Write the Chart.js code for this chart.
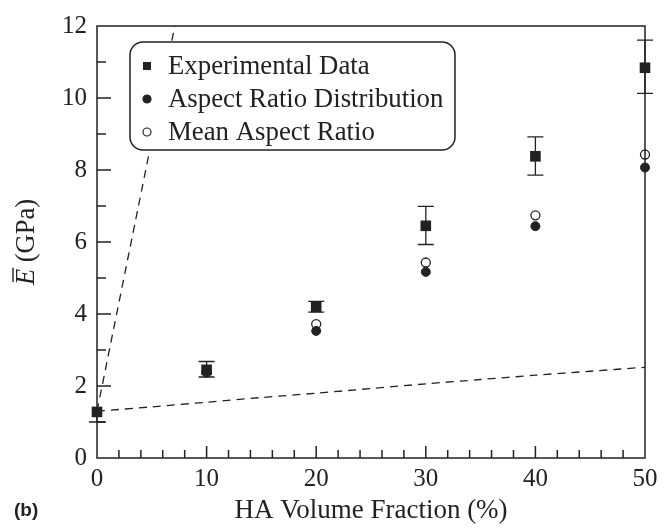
<!DOCTYPE html>
<html lang="en">
<head>
  <meta charset="UTF-8" />
  <title>E vs HA Volume Fraction</title>
  <script src="https://cdn.jsdelivr.net/npm/chart.js"></script>
  <style>
    body {
      margin: 0;
      padding: 0;
      background: #fff;
    }
    .chart-container {
      position: relative;
      width: 671px;
      height: 532px;
    }
    .panel-label {
      position: absolute;
      left: 14px;
      top: 499px;
      font: bold 19px "Liberation Sans", Arial, sans-serif;
      color: #222;
    }
  </style>
</head>
<body>
  <div class="chart-container">
    <canvas id="modulusChart"></canvas>
    <div class="panel-label">(b)</div>
  </div>

  <script>
    const fractions = [0, 10, 20, 30, 40, 50];
    const experimental = [1.28, 2.45, 4.2, 6.45, 8.38, 10.84];
    const errUp = [0.05, 0.23, 0.15, 0.54, 0.54, 0.77];
    const errDown = [0.28, 0.2, 0.15, 0.52, 0.52, 0.71];
    const distribution = [null, 2.4, 3.53, 5.17, 6.44, 8.07];
    const meanRatio = [null, 2.38, 3.72, 5.43, 6.74, 8.43];

    const upperX = [0, 7.1];
    const upperY = [1.3, 12];
    const lowerX = [0, 5, 10, 15, 20, 25, 30, 35, 40, 45, 50];
    const lowerY = [1.3, 1.42, 1.55, 1.68, 1.8, 1.93, 2.06, 2.18, 2.3, 2.41, 2.52];

    const yTicks = [0, 2, 4, 6, 8, 10, 12];
    const xTicks = [0, 10, 20, 30, 40, 50];

    const ink = '#222';
    const serif = '"Liberation Serif", "Times New Roman", serif';

    const pts = (xs, ys) => xs.map((v, i) => ({x: v, y: ys[i]})).filter(p => p.y !== null);

    // inward ticks, frame, error bars, legend box and y title
    const decorations = {
      id: 'decorations',
      afterDatasetsDraw(chart) {
        const {ctx, scales: {x, y}} = chart;
        ctx.save();
        ctx.strokeStyle = ink;
        ctx.lineWidth = 1.3;
        experimental.forEach((v, i) => {
          const px = x.getPixelForValue(fractions[i]);
          const top = y.getPixelForValue(v + errUp[i]);
          const bot = y.getPixelForValue(v - errDown[i]);
          ctx.beginPath();
          ctx.moveTo(px, top); ctx.lineTo(px, bot);
          if (errUp[i] > 0.1) {
            ctx.moveTo(px - 8, top); ctx.lineTo(px + 8, top);
          }
          ctx.moveTo(px - 8, bot); ctx.lineTo(px + 8, bot);
          ctx.stroke();
        });
        ctx.restore();
      },
      afterDraw(chart) {
        const {ctx, chartArea: a, scales: {x, y}} = chart;
        ctx.save();
        ctx.strokeStyle = ink;
        ctx.lineWidth = 1.5;
        ctx.strokeRect(a.left, a.top, a.width, a.height);

        ctx.beginPath();
        for (let v = 2; v < 50; v += 2) {
          const px = x.getPixelForValue(v);
          const len = v % 10 === 0 ? 12 : 8;
          ctx.moveTo(px, a.bottom); ctx.lineTo(px, a.bottom - len);
        }
        for (let v = 1; v < 12; v += 1) {
          const py = y.getPixelForValue(v);
          const len = v % 2 === 0 ? 14 : 9;
          ctx.moveTo(a.left, py); ctx.lineTo(a.left + len, py);
        }
        ctx.stroke();

        // legend
        const box = {left: 130, top: 42, width: 325, height: 108};
        ctx.beginPath();
        ctx.roundRect(box.left, box.top, box.width, box.height, 13);
        ctx.fillStyle = '#fff';
        ctx.fill();
        ctx.lineWidth = 1.5;
        ctx.stroke();

        ctx.font = '26.8px ' + serif;
        ctx.textBaseline = 'middle';
        ctx.textAlign = 'left';
        [0, 1, 2].forEach(i => {
          const ds = chart.data.datasets[i];
          const cy = box.top + 24 + i * 33;
          const cx = 147;
          ctx.fillStyle = ink;
          ctx.lineWidth = 1.2;
          if (ds.pointStyle === 'rect') {
            ctx.fillRect(cx - 4, cy - 4, 8, 8);
          } else {
            ctx.beginPath();
            ctx.arc(cx, cy, 4, 0, Math.PI * 2);
            ctx.fillStyle = ds.pointBackgroundColor;
            ctx.fill();
            ctx.stroke();
          }
          ctx.fillStyle = ink;
          ctx.fillText(ds.label, 168, cy + 1);
        });

        // y axis title: E with overbar, then (GPa)
        ctx.translate(26, (a.top + a.bottom) / 2);
        ctx.rotate(-Math.PI / 2);
        ctx.textBaseline = 'alphabetic';
        ctx.font = 'italic 26.5px ' + serif;
        const eW = ctx.measureText('E').width;
        ctx.font = '26.5px ' + serif;
        const restW = ctx.measureText(' (GPa)').width;
        const start = -(eW + restW) / 2;
        ctx.font = 'italic 26.5px ' + serif;
        ctx.fillStyle = ink;
        ctx.fillText('E', start, 8);
        ctx.font = '26.5px ' + serif;
        ctx.fillText(' (GPa)', start + eW, 8);
        ctx.lineWidth = 1.4;
        ctx.beginPath();
        ctx.moveTo(start + 3, -13);
        ctx.lineTo(start + eW + 1, -13);
        ctx.stroke();
        ctx.restore();
      }
    };

    const ctx = document.getElementById('modulusChart').getContext('2d');

    new Chart(ctx, {
      type: 'scatter',
      data: {
        datasets: [
          {
            label: 'Experimental Data',
            data: pts(fractions, experimental),
            pointStyle: 'rect',
            pointRadius: 7.5,
            pointBackgroundColor: ink,
            pointBorderColor: ink,
            pointBorderWidth: 0,
            clip: false
          },
          {
            label: 'Aspect Ratio Distribution',
            data: pts(fractions, distribution),
            pointStyle: 'circle',
            pointRadius: 4.5,
            pointBackgroundColor: ink,
            pointBorderColor: ink,
            pointBorderWidth: 1,
            clip: false
          },
          {
            label: 'Mean Aspect Ratio',
            data: pts(fractions, meanRatio),
            pointStyle: 'circle',
            pointRadius: 4.5,
            pointBackgroundColor: '#fff',
            pointBorderColor: ink,
            pointBorderWidth: 1.3,
            clip: false
          },
          {
            label: 'Upper bound',
            data: pts(upperX, upperY),
            showLine: true,
            borderColor: ink,
            borderWidth: 1.3,
            borderDash: [8, 6],
            pointRadius: 0
          },
          {
            label: 'Lower bound',
            data: pts(lowerX, lowerY),
            showLine: true,
            borderColor: ink,
            borderWidth: 1.3,
            borderDash: [8, 6],
            pointRadius: 0,
            tension: 0.3
          }
        ]
      },
      options: {
        responsive: true,
        maintainAspectRatio: false,
        animation: false,
        layout: {
          padding: {top: 26, right: 26, left: 0, bottom: 0}
        },
        plugins: {
          legend: {display: false},
          tooltip: {enabled: false}
        },
        scales: {
          x: {
            type: 'linear',
            min: 0,
            max: 50,
            afterBuildTicks: s => { s.ticks = xTicks.map(v => ({value: v})); },
            afterFit: s => { s.height = 74; },
            grid: {display: false, drawTicks: false},
            border: {display: false},
            ticks: {
              color: ink,
              padding: 6,
              maxRotation: 0,
              font: {family: serif, size: 25}
            },
            title: {
              display: true,
              text: 'HA Volume Fraction (%)',
              color: ink,
              padding: {top: 0, bottom: 5},
              font: {family: serif, size: 27}
            }
          },
          y: {
            min: 0,
            max: 12,
            afterBuildTicks: s => { s.ticks = yTicks.map(v => ({value: v})); },
            afterFit: s => { s.width = 97; },
            grid: {display: false, drawTicks: false},
            border: {display: false},
            ticks: {
              color: ink,
              padding: 10,
              font: {family: serif, size: 25}
            }
          }
        }
      },
      plugins: [decorations]
    });
  </script>
</body>
</html>
